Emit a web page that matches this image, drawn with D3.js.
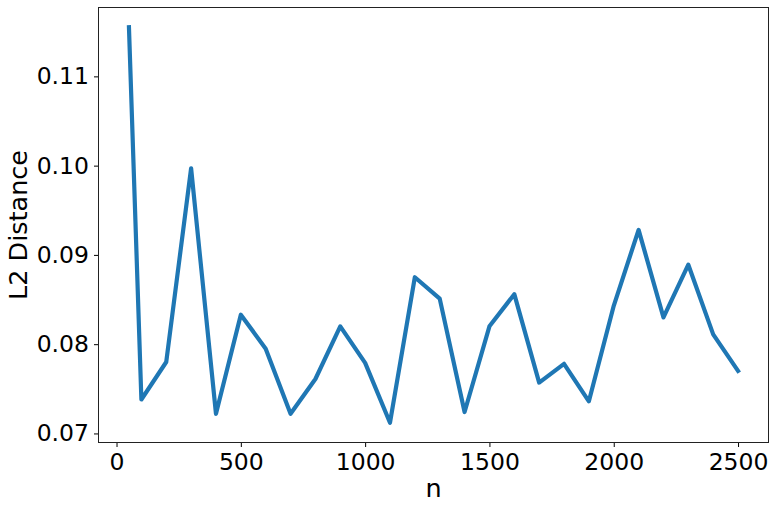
<!DOCTYPE html>
<html>
<head>
<meta charset="utf-8">
<script src="https://cdn.jsdelivr.net/npm/d3@7"></script>
<style>
   body { margin: 0; background: #fff; }
   svg { display: block; font-family: "DejaVu Sans", sans-serif; }
</style>
</head>
<body>
<svg id="chart" width="776" height="508"></svg>
<script>
// DATA
var nValues = [50, 100, 200, 300, 400, 500, 600, 700, 800, 900, 1000, 1100, 1200,
   1300, 1400, 1500, 1600, 1700, 1800, 1900, 2000, 2100, 2200, 2300, 2400, 2500];
var l2Distance = [0.1155, 0.0738, 0.0780, 0.0997, 0.0722, 0.0833, 0.0795, 0.0722, 0.0761,
   0.0820, 0.0779, 0.0712, 0.0875, 0.0851, 0.0724, 0.0820, 0.0856, 0.0757, 0.0778,
   0.0736, 0.0843, 0.0928, 0.0830, 0.0889, 0.0811, 0.0770];
var xTicks = [0, 500, 1000, 1500, 2000, 2500];
var yTicks = [0.07, 0.08, 0.09, 0.10, 0.11];

var svg = d3.select('#chart');

var bounds = {left: 98.5, right: 768.5, top: 7.5, bottom: 442.5};

// matplotlib style 5% margins around the data
var xPad = (d3.max(nValues) - d3.min(nValues)) * 0.05;
var yPad = (d3.max(l2Distance) - d3.min(l2Distance)) * 0.05;

var x = d3.scaleLinear()
   .domain([d3.min(nValues) - xPad, d3.max(nValues) + xPad])
   .range([bounds.left, bounds.right]);

var y = d3.scaleLinear()
   .domain([d3.min(l2Distance) - yPad, d3.max(l2Distance) + yPad])
   .range([bounds.bottom, bounds.top]);

// line
var line = d3.line()
   .x(function (d, i) { return x(nValues[i]); })
   .y(function (d) { return y(d); });

svg.append('path')
   .datum(l2Distance)
   .attr('fill', 'none')
   .attr('stroke', '#1f77b4')
   .attr('stroke-width', 4.2)
   .attr('stroke-linejoin', 'round')
   .attr('stroke-linecap', 'square')
   .attr('d', line);

// axes
var xAxis = d3.axisBottom(x)
   .tickValues(xTicks)
   .tickSize(4.5)
   .tickPadding(6)
   .tickSizeOuter(0)
   .tickFormat(d3.format('d'));

var yAxis = d3.axisLeft(y)
   .tickValues(yTicks)
   .tickSize(4.5)
   .tickPadding(5)
   .tickSizeOuter(0)
   .tickFormat(d3.format('.2f'));

var xg = svg.append('g')
   .attr('transform', 'translate(0,' + bounds.bottom + ')')
   .call(xAxis);

var yg = svg.append('g')
   .attr('transform', 'translate(' + bounds.left + ',0)')
   .call(yAxis);

[xg, yg].forEach(function (g) {
   g.select('.domain').remove();
   g.selectAll('.tick line').attr('stroke', '#000').attr('stroke-width', 1);
   g.selectAll('.tick text')
      .attr('fill', '#000')
      .style('font-size', '23.5px')
      .style('font-family', '"DejaVu Sans", sans-serif');
});

// frame
svg.append('rect')
   .attr('x', bounds.left)
   .attr('y', bounds.top)
   .attr('width', bounds.right - bounds.left)
   .attr('height', bounds.bottom - bounds.top)
   .attr('fill', 'none')
   .attr('stroke', '#222')
   .attr('stroke-width', 1);

// labels
svg.append('text')
   .text('n')
   .attr('text-anchor', 'middle')
   .attr('x', (bounds.left + bounds.right) / 2)
   .attr('y', 496.5)
   .style('font-size', '25.5px');

svg.append('text')
   .text('L2 Distance')
   .attr('text-anchor', 'middle')
   .attr('transform', 'translate(26.5,' + ((bounds.top + bounds.bottom) / 2) + ') rotate(-90)')
   .style('font-size', '25.5px');
</script>
</body>
</html>
